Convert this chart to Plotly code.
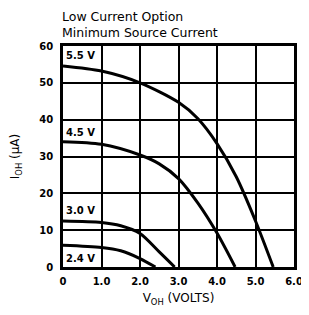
import plotly.graph_objects as go

# Data
v55_x = [0, 1.0, 2.0, 3.0, 3.5, 4.0, 4.5, 5.0, 5.46]
v55_y = [54.6, 53.2, 50.0, 44.7, 40.3, 33.5, 24.5, 12.5, 0]
v45_x = [0, 1.0, 2.0, 2.5, 3.0, 3.5, 4.0, 4.47]
v45_y = [34.0, 33.3, 30.4, 28.0, 24.0, 17.4, 9.2, 0]
v30_x = [0, 1.0, 1.5, 2.0, 2.5, 2.9]
v30_y = [12.5, 12.1, 11.2, 9.1, 4.1, 0]
v24_x = [0, 1.0, 1.5, 2.0, 2.4]
v24_y = [5.9, 5.3, 4.4, 2.3, 0]
labels = ["5.5 V", "4.5 V", "3.0 V", "2.4 V"]
label_y = [57.5, 36.6, 15.4, 2.4]

x_ticks = [0, 1, 2, 3, 4, 5, 6]
x_tick_text = ["0", "1.0", "2.0", "3.0", "4.0", "5.0", "6.0"]
y_ticks = [0, 10, 20, 30, 40, 50, 60]

FONT = "DejaVu Sans"

fig = go.Figure()
for xs, ys in [(v55_x, v55_y), (v45_x, v45_y), (v30_x, v30_y), (v24_x, v24_y)]:
    fig.add_trace(go.Scatter(x=xs, y=ys, mode="lines",
                             line=dict(color="black", width=3, shape="spline", smoothing=0.8),
                             showlegend=False, hoverinfo="skip"))

for lab, ly in zip(labels, label_y):
    fig.add_annotation(x=0.06, y=ly, text=lab, showarrow=False, xanchor="left",
                       yanchor="middle", bgcolor="white", borderpad=0,
                       font=dict(family=FONT, size=10, color="black", weight="bold"))

fig.add_annotation(xref="paper", yref="paper", x=-0.015, y=1.178, xanchor="left",
                   yanchor="top", showarrow=False, align="left",
                   text="Low Current Option<br>Minimum Source Current",
                   font=dict(family=FONT, size=12.5, color="black"))

fig.update_layout(
    width=293, height=299,
    margin=dict(l=55, r=7, t=38, b=40),
    paper_bgcolor="white", plot_bgcolor="white",
    font=dict(family=FONT, color="black"),
    xaxis=dict(range=[0, 6], tickvals=x_ticks, ticktext=x_tick_text,
               showgrid=True, gridcolor="black", gridwidth=1.5,
               showline=True, linecolor="black", linewidth=2.5, mirror=True,
               zeroline=False, ticks="", ticklabelstandoff=3, automargin=False,
               ticklabeloverflow="allow",
               tickfont=dict(family=FONT, size=10, color="black", weight="bold"),
               title=dict(text="V<sub>OH</sub> (VOLTS)", standoff=13,
                          font=dict(family=FONT, size=12, color="black"))),
    yaxis=dict(range=[0, 60], tickvals=y_ticks,
               showgrid=True, gridcolor="black", gridwidth=1.5,
               showline=True, linecolor="black", linewidth=2.5, mirror=True,
               zeroline=False, ticks="", ticklabelstandoff=5, automargin=False,
               tickfont=dict(family=FONT, size=10, color="black", weight="bold"),
               title=dict(text="I<sub>OH</sub> (\u00b5A)", standoff=20,
                          font=dict(family=FONT, size=12, color="black"))),
)

fig.write_html("out.html")
